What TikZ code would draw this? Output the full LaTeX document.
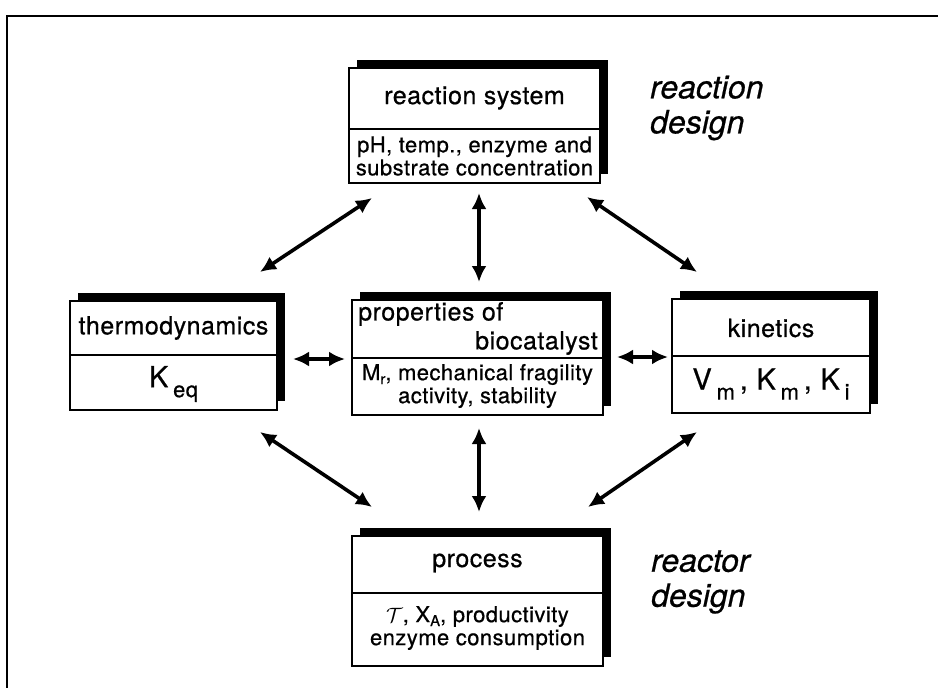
\documentclass[tikz,border=0pt]{standalone}
\usepackage{fontspec}
\setmainfont[LetterSpace=2,FakeBold=0.6]{TeX Gyre Heros}
\usetikzlibrary{arrows.meta}
\newcommand\lowsub[2][10pt]{\raisebox{-#1}{\fontsize{22}{22}\selectfont #2}}
\newcommand\mkbox[6]{%
  \fill[shadowst] (#2+8,#3-8) rectangle (#4+8,#5-9);
  \node[boxst, minimum width=#4-#2, minimum height=#5-#3] (#1) at ({(#2+#4)/2},{(#3+#5)/2}) {};
  \draw[divider] (#2,#6) -- (#4,#6);
}
\begin{document}
\begin{tikzpicture}[x=1pt,y=-1pt,
  boxst/.style={draw, line width=1.7pt, fill=white, inner sep=0pt, outer sep=0pt},
  shadowst/.style={fill=black},
  divider/.style={line width=1.7pt},
  title/.style={font=\fontsize{25}{28}\selectfont, inner sep=0pt},
  detail/.style={font=\fontsize{22}{23}\selectfont, inner sep=0pt, align=center},
  symb/.style={font=\fontsize{29}{30}\selectfont, inner sep=0pt},
  designtxt/.style={font=\fontsize{32}{37}\selectfont\itshape\addfontfeatures{LetterSpace=0}, inner sep=0pt, align=left, anchor=west},
  link/.style={line width=3.6pt, {Latex[length=16pt,width=15pt]}-{Latex[length=16pt,width=15pt]}},
  frame/.style={line width=1.6pt}
]
\useasboundingbox (0,0) rectangle (938,688);
% outer frame (only left and top visible)
\coordinate (fbl) at (7,688);
\coordinate (ftl) at (7,16);
\coordinate (ftr) at (938,16);
\draw[frame] (fbl) -- (ftl) -- (ftr);

% boxes: name, left, top, right, bottom, divider
\mkbox{rs}{349}{68}{600}{183}{129}
\mkbox{th}{70}{301}{277}{410}{355}
\mkbox{pb}{352}{300}{603}{415}{358}
\mkbox{ki}{672}{299}{870}{413}{356}
\mkbox{pr}{352}{536}{603}{666}{593}

% reaction system
\node[title] (rs-t) at (474.5,98) {reaction system};
\node[detail] (rs-d) at (474.5,156) {pH, temp., enzyme and\\substrate concentration};

% thermodynamics
\node[title] (th-t) at (173.5,328) {thermodynamics};
\node[symb] (th-d) at (173.5,384) {K\,\lowsub{eq}};

% properties of biocatalyst
\node[title, anchor=west] (pb-t1) at (358,314) {properties of};
\node[title, anchor=east] (pb-t2) at (598,343) {biocatalyst};
\node[detail] (pb-d) at (477.5,386) {M\lowsub[4pt]{\fontsize{15}{15}\selectfont r}, mechanical fragility\\activity, stability};

% kinetics
\node[title] (ki-t) at (771,328) {kinetics};
\node[symb] (ki-d) at (771,384) {V\,\lowsub{m}\,, K\,\lowsub{m}\,, K\,\lowsub{i}};

% process
\node[title] (pr-t) at (477.5,563) {process};
\node[detail] (pr-d) at (477.5,628) {$\mathcal{T}$, X\lowsub[4pt]{\fontsize{15}{15}\selectfont A}, productivity\\enzyme consumption};

% design labels
\node[designtxt] (rd) at (650,108) {reaction\\[-2pt]design};
\node[designtxt] (rcd) at (651,582) {reactor\\[-2pt]design};

% connectors
\coordinate (a1s) at (372,198); \coordinate (a1e) at (260,272);
\coordinate (a2s) at (479,193); \coordinate (a2e) at (479,282);
\coordinate (a3s) at (587,197); \coordinate (a3e) at (697,272);
\coordinate (a4s) at (293,359); \coordinate (a4e) at (345,359);
\coordinate (a5s) at (617,357); \coordinate (a5e) at (668,357);
\coordinate (a6s) at (260,432); \coordinate (a6e) at (372,507);
\coordinate (a7s) at (479,428); \coordinate (a7e) at (479,512);
\coordinate (a8s) at (697,432); \coordinate (a8e) at (588,507);
\draw[link] (a1s) -- (a1e);
\draw[link] (a2s) -- (a2e);
\draw[link] (a3s) -- (a3e);
\draw[link] (a4s) -- (a4e);
\draw[link] (a5s) -- (a5e);
\draw[link] (a6s) -- (a6e);
\draw[link] (a7s) -- (a7e);
\draw[link] (a8s) -- (a8e);
\end{tikzpicture}
\end{document}
